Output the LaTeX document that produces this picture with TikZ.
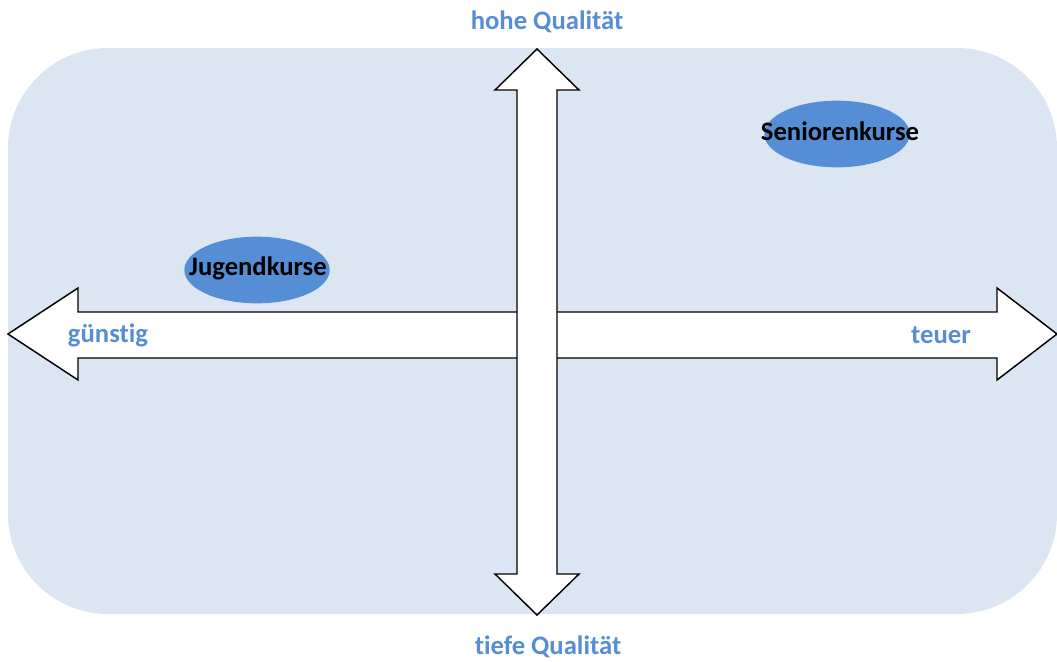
\documentclass[tikz,border=0pt]{standalone}
\usepackage{fontspec}
\setmainfont[Ligatures={NoCommon}]{Carlito}
\usetikzlibrary{shapes.geometric}
\definecolor{bgblue}{HTML}{DCE6F2}
\definecolor{ellblue}{HTML}{558ED5}
\definecolor{lblblue}{HTML}{558ED5}
\begin{document}
\begin{tikzpicture}[x=0.75pt,y=-0.75pt,
  axislabel/.style={text=lblblue,font=\fontsize{20}{23}\selectfont\bfseries,inner sep=0pt},
  blob/.style={ellipse,fill=ellblue,draw=none,minimum width=109pt,minimum height=50pt,inner sep=0pt},
  blobtext/.style={font=\fontsize{20}{23}\selectfont\bfseries,text=black,inner sep=0pt},
  arrowshape/.style={draw=black,fill=white,line width=1.1pt,line join=miter}]
\useasboundingbox (0,0) rectangle (1057,661);
\fill[bgblue,rounded corners=75pt] (8,48) rectangle (1057,614);
% horizontal double arrow
\draw[arrowshape] (8,334) -- (78,288) -- (78,312) -- (997,312) -- (997,288) -- (1057,334)
  -- (997,380) -- (997,358) -- (78,358) -- (78,380) -- cycle;
% vertical double arrow
\draw[arrowshape] (537,49) -- (579,90) -- (557,90) -- (557,574) -- (579,574) -- (537,615)
  -- (495,574) -- (517,574) -- (517,90) -- (495,90) -- cycle;
\node[blob] (jugend) at (257,270) {};
\node[blobtext] (jugendtxt) at (258,268) {Jugendkurse};
\node[blob] (senior) at (837,134) {};
\node[blobtext] (seniortxt) at (840,131) {Seniorenkurse};
\node[axislabel] (hohe) at (547,22) {hohe Qualität};
\node[axislabel] (tiefe) at (548,647) {tiefe Qualität};
\node[axislabel] (guenstig) at (108,335) {günstig};
\node[axislabel] (teuer) at (941,335) {teuer};
\end{tikzpicture}
\end{document}
